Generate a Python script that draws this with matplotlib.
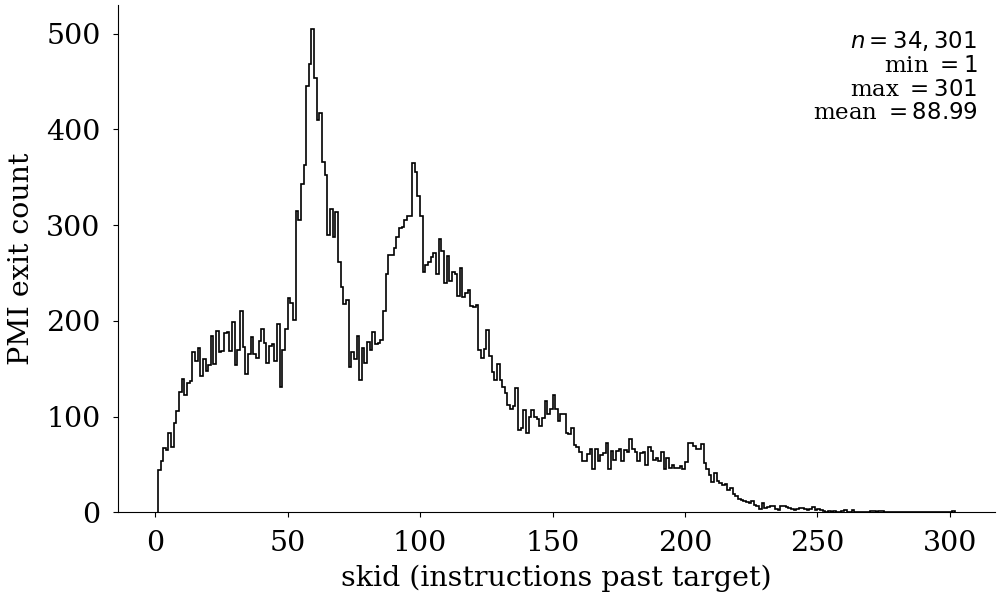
import numpy as np
import matplotlib
matplotlib.use("Agg")
import matplotlib.pyplot as plt

# skid values 1..301, counts
skid = np.arange(1, 302)
counts = [
    44, 54, 67, 65, 83, 68, 93, 106, 126, 139,
    123, 135, 137, 167, 158, 172, 142, 160, 148, 154,
    184, 155, 189, 167, 168, 187, 188, 168, 199, 154,
    169, 210, 173, 144, 165, 183, 165, 161, 179, 191,
    177, 156, 174, 176, 158, 197, 131, 169, 191, 224,
    219, 201, 315, 305, 343, 363, 445, 468, 505, 454,
    410, 417, 366, 352, 290, 317, 288, 314, 261, 235,
    218, 222, 152, 167, 160, 184, 138, 172, 156, 178,
    169, 188, 176, 177, 180, 210, 249, 269, 269, 276,
    288, 297, 298, 305, 310, 310, 365, 356, 330, 310,
    251, 258, 262, 267, 271, 249, 285, 273, 240, 268,
    242, 251, 249, 226, 255, 225, 229, 232, 215, 214,
    217, 170, 161, 171, 190, 163, 146, 138, 155, 138,
    131, 125, 112, 108, 111, 130, 86, 88, 107, 83,
    100, 107, 100, 97, 90, 98, 116, 103, 108, 122,
    108, 95, 103, 103, 83, 82, 88, 70, 68, 63,
    53, 54, 61, 66, 45, 66, 54, 60, 62, 72,
    45, 64, 55, 64, 66, 54, 65, 63, 76, 66,
    63, 53, 62, 63, 49, 68, 64, 55, 57, 53,
    63, 45, 57, 46, 49, 46, 46, 48, 45, 52,
    72, 72, 69, 66, 66, 71, 51, 45, 39, 32,
    41, 33, 31, 28, 29, 23, 25, 19, 17, 14,
    13, 12, 11, 10, 12, 7, 6, 3, 10, 4,
    5, 6, 6, 3, 2, 6, 6, 5, 4, 3,
    2, 3, 4, 4, 3, 2, 3, 5, 2, 3,
    2, 1, 0, 1, 0, 1, 0, 0, 1, 2,
    0, 0, 2, 0, 0, 0, 0, 0, 0, 1,
    1, 0, 1, 1, 0, 0, 0, 0, 0, 0,
    0, 0, 0, 0, 0, 0, 0, 0, 0, 0,
    0, 0, 0, 0, 0, 0, 0, 0, 0, 0,
    1,
]
stats_lines = [r"$n = 34,301$", r"min $= 1$", r"max $= 301$", r"mean $= 88.99$"]

plt.rcParams['font.family'] = 'DejaVu Serif'

fig, ax = plt.subplots(figsize=(10, 6.04), dpi=100)
edges = np.arange(1, 303)
ax.hist(skid, bins=edges, weights=counts, histtype='step', color='black', linewidth=1.2)

ax.set_xticks([0, 50, 100, 150, 200, 250, 300])
ax.set_yticks([0, 100, 200, 300, 400, 500])
ax.tick_params(labelsize=20.5, pad=9)
ax.set_xlabel('skid (instructions past target)', fontsize=20.5, labelpad=6)
ax.set_ylabel('PMI exit count', fontsize=20.5, labelpad=8)
ax.spines['top'].set_visible(False)
ax.spines['right'].set_visible(False)

ax.text(0.98, 0.952, "\n".join(stats_lines), transform=ax.transAxes,
        ha='right', va='top', fontsize=16.5, linespacing=1.1,
        multialignment='right')

plt.subplots_adjust(left=0.118, right=0.995, top=0.992, bottom=0.152)
fig.savefig('out.png')
